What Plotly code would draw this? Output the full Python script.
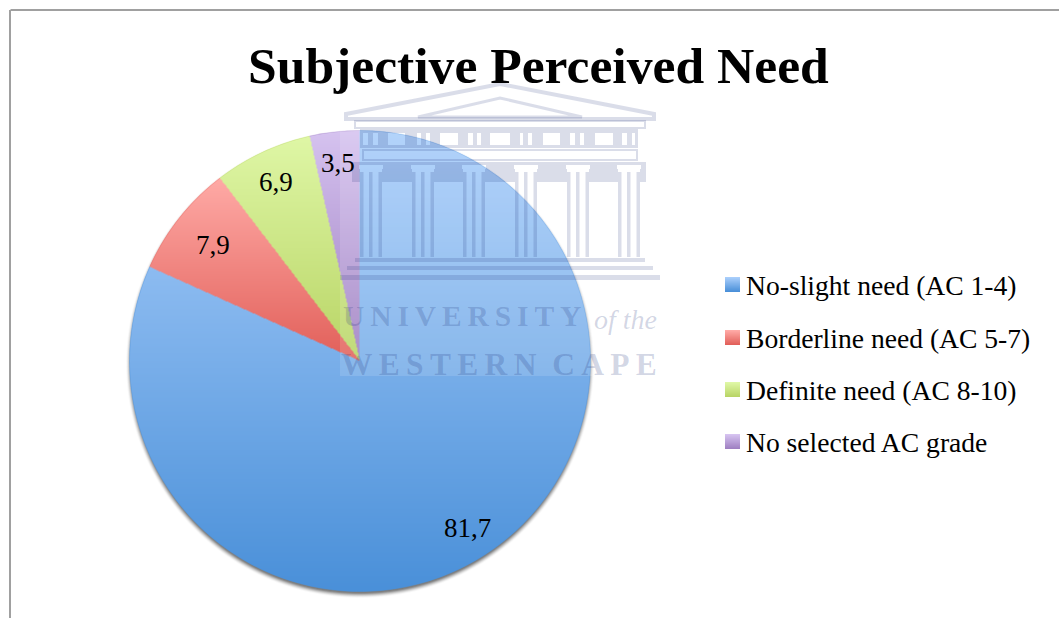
import base64, struct, zlib
import numpy as np
import plotly.graph_objects as go

W, H = 1059, 618
categories = ["No-slight need (AC 1-4)", "Borderline need (AC 5-7)", "Definite need (AC 8-10)", "No selected AC grade"]
values = [81.7, 7.9, 6.9, 3.5]
value_labels = ["81,7", "7,9", "6,9", "3,5"]
label_radius = [0.86, 0.815, 0.86, 0.87]
base_colors = ["#4a90d9", "#e2605a", "#b9d566", "#9f80c2"]
top_colors = ["#a9cefb", "#ffaaa6", "#dff7a6", "#d6c3f0"]
title = "Subjective Perceived Need"

CX, CY, R = 360, 361, 230.5

def px(x): return x / W
def py(y): return 1 - y / H
def hex2rgb(c): return np.array([int(c[i:i+2], 16) for i in (1, 3, 5)], float)

def png_uri(rgba):
    h, w, _ = rgba.shape
    raw = b"".join(b"\x00" + rgba[i].tobytes() for i in range(h))
    def chunk(t, d):
        return struct.pack(">I", len(d)) + t + d + struct.pack(">I", zlib.crc32(t + d) & 0xffffffff)
    data = b"\x89PNG\r\n\x1a\n" + chunk(b"IHDR", struct.pack(">IIBBBBB", w, h, 8, 6, 0, 0, 0)) + chunk(b"IDAT", zlib.compress(raw)) + chunk(b"IEND", b"")
    return "data:image/png;base64," + base64.b64encode(data).decode()

# per-slice vertical light gradient laid over the solid pie slices
size = int(2 * R + 4)
ys, xs = np.mgrid[0:size, 0:size]
dx = xs + 0.5 - size / 2
dy = ys + 0.5 - size / 2
rr = np.hypot(dx, dy)
ang = (np.degrees(np.arctan2(dx, -dy)) % 360) / 3.6
edge = np.clip(R + 0.5 - rr, 0, 1)
overlay = np.zeros((size, size, 4), np.uint8)
cum = np.cumsum([0] + values)
for i in range(len(values)):
    mask = (ang >= cum[i]) & (ang < cum[i + 1])
    top, bot = dy[mask & (rr <= R)].min(), dy[mask & (rr <= R)].max()
    t = np.clip((dy - top) / (bot - top), 0, 1)
    c0, c1 = hex2rgb(top_colors[i]), hex2rgb(base_colors[i])
    for k in range(3):
        overlay[..., k][mask] = (c0[k] + (c1[k] - c0[k]) * t[mask]).astype(np.uint8)
    overlay[..., 3][mask] = (255 * edge[mask]).astype(np.uint8)

# soft drop shadow under the pie
sh_size = size + 24
ys2, xs2 = np.mgrid[0:sh_size, 0:sh_size]
sr = np.hypot(xs2 + 0.5 - sh_size / 2, ys2 + 0.5 - sh_size / 2 - 3)
shadow = np.zeros((sh_size, sh_size, 4), np.uint8)
shadow[..., :3] = 60
shadow[..., 3] = (np.clip((R + 3.5 - sr) / 5, 0, 1) ** 1.5 * 170).astype(np.uint8)

WM = "rgba(25,45,120,0.16)"
shapes = []
def rect(x0, y0, x1, y1, fill=WM, line=None, lw=0):
    shapes.append(dict(type="rect", xref="paper", yref="paper", x0=px(x0), x1=px(x1), y0=py(y0), y1=py(y1),
                       fillcolor=fill, line=dict(color=line or "rgba(0,0,0,0)", width=lw), layer="above"))
def poly(pts, lw=3):
    d = "M " + " L ".join(f"{px(x):.5f},{py(y):.5f}" for x, y in pts) + " Z"
    shapes.append(dict(type="path", xref="paper", yref="paper", path=d, fillcolor="rgba(0,0,0,0)",
                       line=dict(color=WM, width=lw), layer="above"))
def spans(a, b, gaps):
    out, cur = [], a
    for g0, g1 in gaps:
        out.append((cur, g0))
        cur = g1
    out.append((cur, b))
    return out

# watermark: pale backing, then the building
rect(340, 72, 660, 376, fill="rgba(255,255,255,0.13)")
poly([(346, 114), (500, 84), (654, 114), (654, 119), (346, 119)], lw=4)
poly([(418, 117), (500, 98), (582, 117)], lw=3)
rect(355, 121, 645, 128, fill="rgba(0,0,0,0)", line=WM, lw=2)
rect(360, 129, 638, 133)
rect(360, 145, 638, 148)
frieze_gaps = [(363, 368), (373, 378), (388, 405), (417, 421), (426, 430), (440, 458), (468, 473), (477, 481), (490, 510),
               (520, 523), (528, 532), (543, 560), (570, 575), (580, 584), (595, 613), (622, 627), (632, 635)]
for a, b in spans(360, 638, frieze_gaps):
    rect(a, 133, b, 145)
rect(363, 150, 637, 160, fill="rgba(0,0,0,0)", line=WM, lw=2)
rect(352, 162, 646, 165)
cols = [360, 412, 463, 515, 567, 618]
for a, b in spans(352, 646, [(c - 1, c + 23) for c in cols]):
    rect(a, 165, b, 169)
for a, b in spans(352, 646, [(c, c + 22) for c in cols]):
    rect(a, 169, b, 182)
for col in cols:
    for off, wd in [(0, 3.5), (9, 3.5), (18.5, 3.5)]:
        rect(col + off, 172, col + off + wd, 257)
rect(355, 258, 645, 262)
rect(347, 266, 653, 270)
rect(340, 275, 660, 280)

# frame
shapes.append(dict(type="line", xref="paper", yref="paper", x0=px(10.5), x1=1, y0=py(10), y1=py(10), line=dict(color="#a0a0a0", width=2), layer="above"))
shapes.append(dict(type="line", xref="paper", yref="paper", x0=px(10), x1=px(10), y0=py(10), y1=0, line=dict(color="#a0a0a0", width=2), layer="above"))

# legend swatches
leg_y = [285, 338, 390, 442]
for i, y in enumerate(leg_y):
    c0, c1 = hex2rgb(top_colors[i]), hex2rgb(base_colors[i])
    for j in range(15):
        c = c0 + (c1 - c0) * j / 14
        rect(725, y - 8 + j, 740, y - 7 + j, fill=f"rgb({c[0]:.0f},{c[1]:.0f},{c[2]:.0f})")

FONT = "Liberation Serif"
ann = []
def text(x, y, s, size, color="#000000", anchor="left", bold=False, family=FONT):
    ann.append(dict(xref="paper", yref="paper", x=px(x), y=py(y), text=f"<b>{s}</b>" if bold else s, showarrow=False,
                    xanchor=anchor, yanchor="middle", font=dict(family=family, size=size, color=color)))

WMT = "rgba(25,45,120,0.2)"
text(341, 316, "<b>U&#8201;N&#8201;I&#8201;V&#8201;E&#8201;R&#8201;S&#8201;I&#8201;T&#8201;Y</b>", 29.5, WMT)
text(592, 319, "<i>of the</i>", 28, WMT)
text(339, 364, "<b>W&#8201;E&#8201;S&#8201;T&#8201;E&#8201;R&#8201;N&#160;&#160;C&#8201;A&#8201;P&#8201;E</b>", 31.5, WMT)

text(538, 66, title, 51.6, anchor="center", bold=True)
for i, c in enumerate(categories):
    text(744, leg_y[i], c, 27.6)
# value labels sit on each slice's mid-angle
for i, lab in enumerate(value_labels):
    a = np.radians((cum[i] + cum[i + 1]) / 2 * 3.6)
    text(CX + label_radius[i] * R * np.sin(a), CY - label_radius[i] * R * np.cos(a) + 1, lab, 27, anchor="center")

fig = go.Figure(go.Pie(
    labels=categories, values=values, sort=False, direction="clockwise", rotation=0,
    marker=dict(colors=base_colors, line=dict(width=0)), textinfo="none", hoverinfo="label+value",
    domain=dict(x=[px(CX - R), px(CX + R)], y=[py(CY + R), py(CY - R)]),
))
fig.update_layout(
    width=W, height=H, margin=dict(l=0, r=0, t=0, b=0), showlegend=False,
    paper_bgcolor="#ffffff", plot_bgcolor="#ffffff", shapes=shapes, annotations=ann,
    images=[
        dict(source=png_uri(shadow), xref="paper", yref="paper", x=px(CX - sh_size / 2), y=py(CY - sh_size / 2),
             sizex=sh_size / W, sizey=sh_size / H, xanchor="left", yanchor="top", sizing="stretch", layer="below"),
        dict(source=png_uri(overlay), xref="paper", yref="paper", x=px(CX - size / 2), y=py(CY - size / 2),
             sizex=size / W, sizey=size / H, xanchor="left", yanchor="top", sizing="stretch", layer="above"),
    ],
)
fig.write_html("out.html", config=dict(displayModeBar=False),
               post_script="document.body.style.margin='0';document.body.style.overflow='hidden';")
